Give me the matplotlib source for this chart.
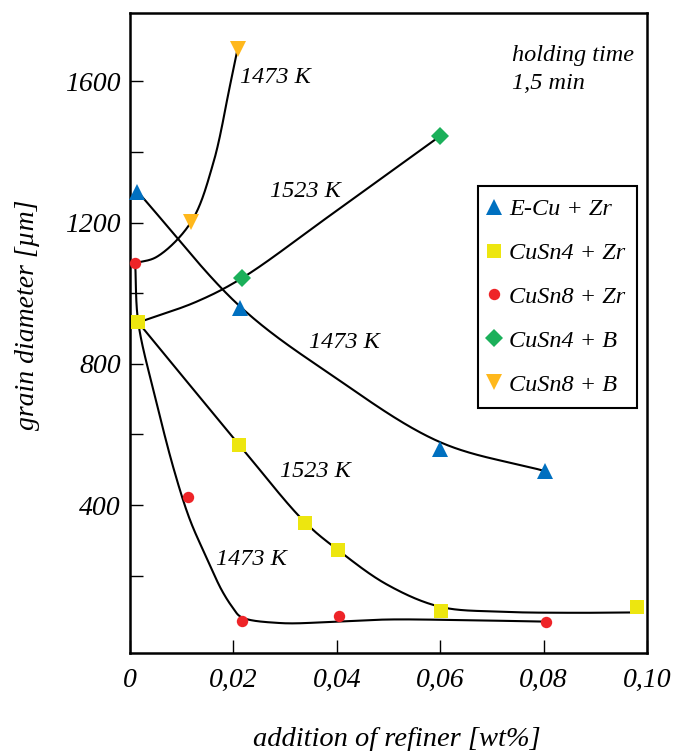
import numpy as np
import matplotlib
matplotlib.use("Agg")
import matplotlib.pyplot as plt

plt.rcParams["font.family"] = ["Liberation Serif", "DejaVu Serif"]
plt.rcParams["font.style"] = "italic"

# ---- measured grain diameters [um] vs. refiner addition [wt%] ----
ecu_zr_x = [0.0013, 0.0213, 0.0600, 0.0803]
ecu_zr_y = [1285, 959, 560, 496]

cusn4_zr_x = [0.0016, 0.0211, 0.0338, 0.0403, 0.0602, 0.0981]
cusn4_zr_y = [917, 571, 350, 272, 99, 110]

cusn8_zr_x = [0.0010, 0.0112, 0.0216, 0.0404, 0.0804]
cusn8_zr_y = [1085, 423, 72, 86, 70]

cusn4_b_x = [0.0216, 0.0600]
cusn4_b_y = [1042, 1445]

cusn8_b_x = [0.0118, 0.0208]
cusn8_b_y = [1201, 1691]

# ---- hand-fitted trend curves (knots along each drawn line) ----
ecu_zr_fit_x = [0.0013, 0.0213, 0.039, 0.060, 0.0803]
ecu_zr_fit_y = [1290, 962, 768, 578, 496]

cusn4_zr_fit_x = [0.0016, 0.0211, 0.0338, 0.0403, 0.0497, 0.060, 0.072, 0.085, 0.098]
cusn4_zr_fit_y = [917, 571, 352, 272, 175, 112, 98, 95, 96]

cusn8_zr_fit_x = [0.0010, 0.0016, 0.0050, 0.0085, 0.0116, 0.0150, 0.0177,
                  0.0199, 0.0215, 0.029, 0.040, 0.050, 0.065, 0.0804]
cusn8_zr_fit_y = [1085, 917, 698, 500, 358, 245, 160, 109, 83, 66, 70, 76, 74, 70]

cusn4_b_fit_x = [0.0016, 0.0129, 0.0216, 0.0387, 0.060]
cusn4_b_fit_y = [917, 976, 1042, 1220, 1445]

cusn8_b_fit_x = [0.0010, 0.0052, 0.0118, 0.0161, 0.0193, 0.0208]
cusn8_b_fit_y = [1085, 1103, 1201, 1368, 1585, 1691]

series_labels = ["E-Cu + Zr", "CuSn4 + Zr", "CuSn8 + Zr", "CuSn4 + B", "CuSn8 + B"]
x_tick_values = [0, 0.02, 0.04, 0.06, 0.08, 0.10]
x_tick_labels = ["0", "0,02", "0,04", "0,06", "0,08", "0,10"]
y_major_ticks = [400, 800, 1200, 1600]
y_minor_ticks = [200, 600, 1000, 1400]

X_MAX, Y_MIN, Y_MAX = 0.10, -18, 1794
SX = 517 / X_MAX              # screen units per wt%
SY = 640 / (Y_MAX - Y_MIN)    # screen units per um


def smooth_curve(fx, fy, n_seg=80, alpha=0.5):
    """Centripetal Catmull-Rom spline through the knots, built in screen
    proportions so that steep and flat stretches are treated alike."""
    P = np.column_stack([np.asarray(fx, float) * SX, np.asarray(fy, float) * SY])
    P = np.vstack([2 * P[0] - P[1], P, 2 * P[-1] - P[-2]])
    out = []
    for i in range(1, len(P) - 2):
        p0, p1, p2, p3 = P[i - 1], P[i], P[i + 1], P[i + 2]
        t0 = 0.0
        t1 = t0 + np.linalg.norm(p1 - p0) ** alpha
        t2 = t1 + np.linalg.norm(p2 - p1) ** alpha
        t3 = t2 + np.linalg.norm(p3 - p2) ** alpha
        t = np.linspace(t1, t2, n_seg)[:, None]
        a1 = (t1 - t) / (t1 - t0) * p0 + (t - t0) / (t1 - t0) * p1
        a2 = (t2 - t) / (t2 - t1) * p1 + (t - t1) / (t2 - t1) * p2
        a3 = (t3 - t) / (t3 - t2) * p2 + (t - t2) / (t3 - t2) * p3
        b1 = (t2 - t) / (t2 - t0) * a1 + (t - t0) / (t2 - t0) * a2
        b2 = (t3 - t) / (t3 - t1) * a2 + (t - t1) / (t3 - t1) * a3
        c = (t2 - t) / (t2 - t1) * b1 + (t - t1) / (t2 - t1) * b2
        out.append(c if i == 1 else c[1:])
    pts = np.vstack(out)
    return pts[:, 0] / SX, pts[:, 1] / SY


fig = plt.figure(figsize=(6.78, 7.51), dpi=100)
ax = fig.add_axes([130 / 678, 1 - 652.7 / 751, 517 / 678, 640 / 751])

# trend curves
for fx, fy in [(ecu_zr_fit_x, ecu_zr_fit_y), (cusn4_zr_fit_x, cusn4_zr_fit_y),
               (cusn8_zr_fit_x, cusn8_zr_fit_y), (cusn4_b_fit_x, cusn4_b_fit_y),
               (cusn8_b_fit_x, cusn8_b_fit_y)]:
    cx, cy = smooth_curve(fx, fy)
    ax.plot(cx, cy, color="black", lw=1.5, zorder=2, solid_capstyle="round")

# measured points
styles = [
    (ecu_zr_x, ecu_zr_y, "^", "#0070C0", 11),
    (cusn4_zr_x, cusn4_zr_y, "s", "#EDE60F", 9.6),
    (cusn8_zr_x, cusn8_zr_y, "o", "#EE2428", 8.2),
    (cusn4_b_x, cusn4_b_y, "D", "#1BB05A", 9),
    (cusn8_b_x, cusn8_b_y, "v", "#FFB81C", 11),
]
for (x, y, mk, col, ms), lab in zip(styles, series_labels):
    ax.plot(x, y, ls="none", marker=mk, color=col, markersize=ms,
            markeredgewidth=0, label=lab, zorder=3, clip_on=False)

ax.set_xlim(0, X_MAX)
ax.set_ylim(Y_MIN, Y_MAX)

ax.set_xticks(x_tick_values)
ax.set_xticklabels(x_tick_labels)
ax.set_yticks(y_major_ticks)
ax.set_yticks(y_minor_ticks, minor=True)

for s in ax.spines.values():
    s.set_linewidth(1.8)
ax.tick_params(axis="both", which="both", direction="in", length=9.4,
               width=1.0, top=False, right=False)
ax.tick_params(axis="x", labelsize=20, pad=11)
ax.tick_params(axis="y", labelsize=20, pad=6.5)

fig.text(28 / 678, 1 - 315 / 751, "grain diameter [µm]", rotation=90,
         ha="center", va="center", fontsize=20)
fig.text(397 / 678, 1 - 739 / 751, "addition of refiner [wt%]",
         ha="center", va="center", fontsize=20.5)

# temperature annotations
ann = dict(fontsize=17.5, ha="left", va="center")
ax.text(0.0213, 1611, "1473 K", **ann)
ax.text(0.0271, 1288, "1523 K", **ann)
ax.text(0.0346, 860, "1473 K", **ann)
ax.text(0.0291, 496, "1523 K", **ann)
ax.text(0.0167, 247, "1473 K", **ann)

ax.text(0.0738, 1702, "holding time\n1,5 min", fontsize=17.5, ha="left",
        va="top", linespacing=1.4)

leg = ax.legend(loc="upper right", bbox_to_anchor=(0.9812, 0.7292),
                borderaxespad=0, fontsize=17.5, numpoints=1, fancybox=False,
                framealpha=1, edgecolor="black", borderpad=0.5,
                labelspacing=0.9, handlelength=0.34, handletextpad=0.45)
leg.get_frame().set_linewidth(1.5)

fig.savefig("out.png", dpi=100)
